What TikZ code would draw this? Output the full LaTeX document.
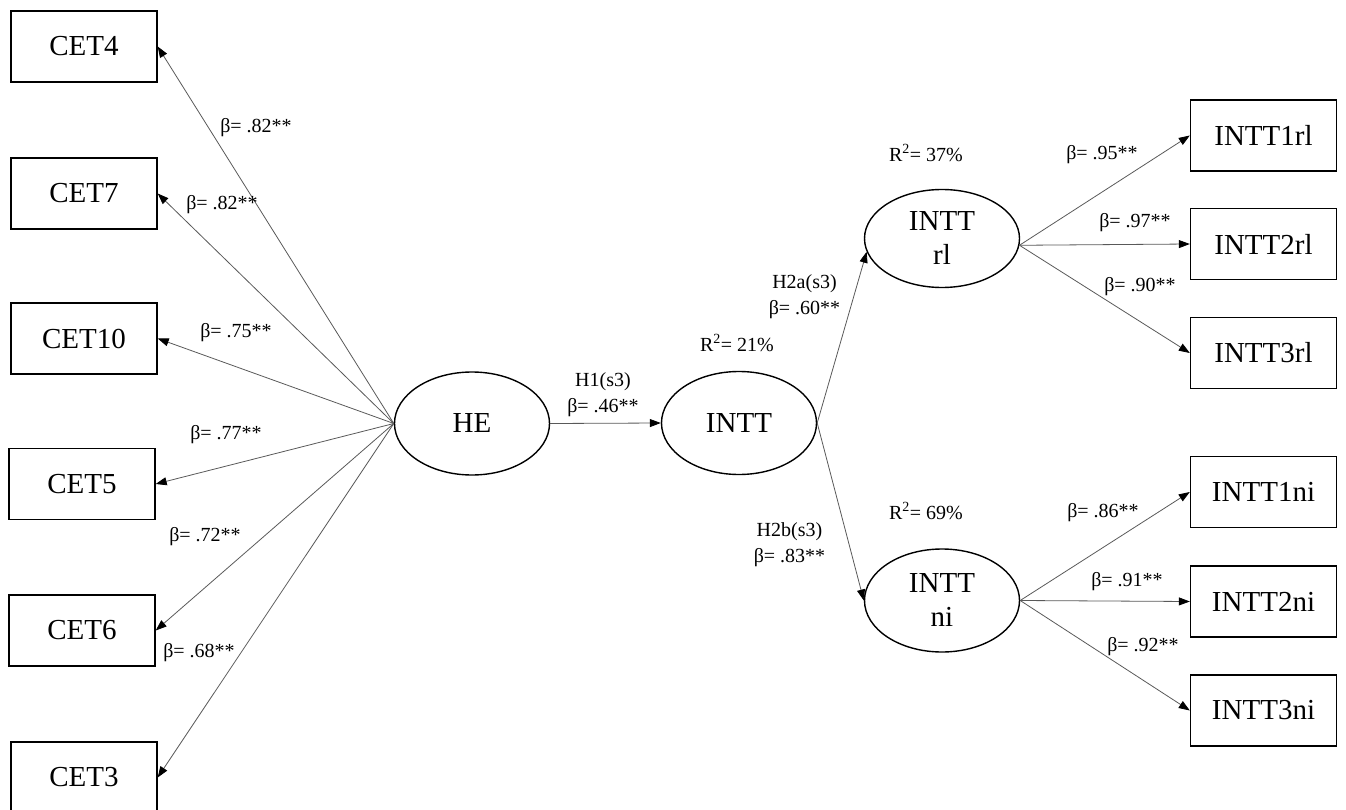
\documentclass[tikz,border=0pt]{standalone}
\usepackage{fontspec}
\setmainfont{Liberation Serif}
\usetikzlibrary{arrows.meta,shapes.geometric}

\tikzset{
  indicator/.style={draw=black, line width=1.4pt, minimum width=146pt, minimum height=71pt,
    inner sep=0pt, font=\fontsize{29}{33}\selectfont},
  latent/.style={draw=black, line width=1.4pt, ellipse, minimum width=155pt, minimum height=103pt,
    inner sep=0pt, align=center, font=\fontsize{29}{34}\selectfont},
  path/.style={draw=black!65, line width=0.8pt, -{Triangle[length=11pt,width=8pt,color=black]}},
  coef/.style={inner sep=0pt, align=center, font=\fontsize{20}{26}\selectfont},
}

\begin{document}
\begin{tikzpicture}[x=1pt, y=-1pt]
\useasboundingbox (0,0) rectangle (1346,810);

% observed indicators of HE
\node[indicator] (CET4)  at (84,46.5)  {CET4};
\node[indicator] (CET7)  at (84,193.5) {CET7};
\node[indicator] (CET10) at (84,338.5) {CET10};
\node[indicator] (CET5)  at (82,484)   {CET5};
\node[indicator] (CET6)  at (82,630.5) {CET6};
\node[indicator] (CET3)  at (84,777.5) {CET3};

% latent constructs
\node[latent] (HE)    at (472,423.5) {HE};
\node[latent] (INTT)  at (739,423)   {INTT};
\node[latent, minimum height=98pt] (INTTrl) at (942,238.5) {INTT\\rl};
\node[latent] (INTTni) at (942,600.5) {INTT\\ni};

% observed indicators of the INTT sub-dimensions
\node[indicator] (INTT1rl) at (1263.5,135.5) {INTT1rl};
\node[indicator] (INTT2rl) at (1263.5,244)   {INTT2rl};
\node[indicator] (INTT3rl) at (1263.5,353)   {INTT3rl};
\node[indicator] (INTT1ni) at (1263.5,492)   {INTT1ni};
\node[indicator] (INTT2ni) at (1263.5,601.5) {INTT2ni};
\node[indicator] (INTT3ni) at (1263.5,710.5) {INTT3ni};

% loadings of HE
\draw[path] (HE.west) -- (CET4.east);
\draw[path] (HE.west) -- (CET7.east);
\draw[path] (HE.west) -- (CET10.east);
\draw[path] (HE.west) -- (CET5.east);
\draw[path] (HE.west) -- (CET6.east);
\draw[path] (HE.west) -- (CET3.east);

% structural paths
\draw[path] (HE.east) -- (INTT.west);
\draw[path] (INTT.east) -- (INTTrl.190);
\draw[path] (INTT.east) -- (INTTni.west);

% loadings of INTT rl and INTT ni
\draw[path] (INTTrl.-5) -- (INTT1rl.west);
\draw[path] (INTTrl.-5) -- (INTT2rl.west);
\draw[path] (INTTrl.-5) -- (INTT3rl.west);
\draw[path] (INTTni.east) -- (INTT1ni.west);
\draw[path] (INTTni.east) -- (INTT2ni.west);
\draw[path] (INTTni.east) -- (INTT3ni.west);

% coefficients
\node[coef] (b4)  at (256,128) {β= .82**};
\node[coef] (b7)  at (222,205) {β= .82**};
\node[coef] (b10) at (236,333) {β= .75**};
\node[coef] (b5)  at (226,435) {β= .77**};
\node[coef] (b6)  at (205,537) {β= .72**};
\node[coef] (b3)  at (199,653) {β= .68**};

\node[coef] (h1)  at (603,394.5) {H1(s3)\\β= .46**};
\node[coef] (r21) at (737,343)   {R\textsuperscript{2}= 21\%};
\node[coef] (h2a) at (804.5,296.5) {H2a(s3)\\β= .60**};
\node[coef] (h2b) at (789.5,545)   {H2b(s3)\\β= .83**};

\node[coef] (r37) at (926,153) {R\textsuperscript{2}= 37\%};
\node[coef] (r69) at (926,511) {R\textsuperscript{2}= 69\%};

\node[coef] (b1rl) at (1102,155) {β= .95**};
\node[coef] (b2rl) at (1135,223) {β= .97**};
\node[coef] (b3rl) at (1140,287) {β= .90**};
\node[coef] (b1ni) at (1103,513) {β= .86**};
\node[coef] (b2ni) at (1127,582) {β= .91**};
\node[coef] (b3ni) at (1143,647) {β= .92**};
\end{tikzpicture}
\end{document}
